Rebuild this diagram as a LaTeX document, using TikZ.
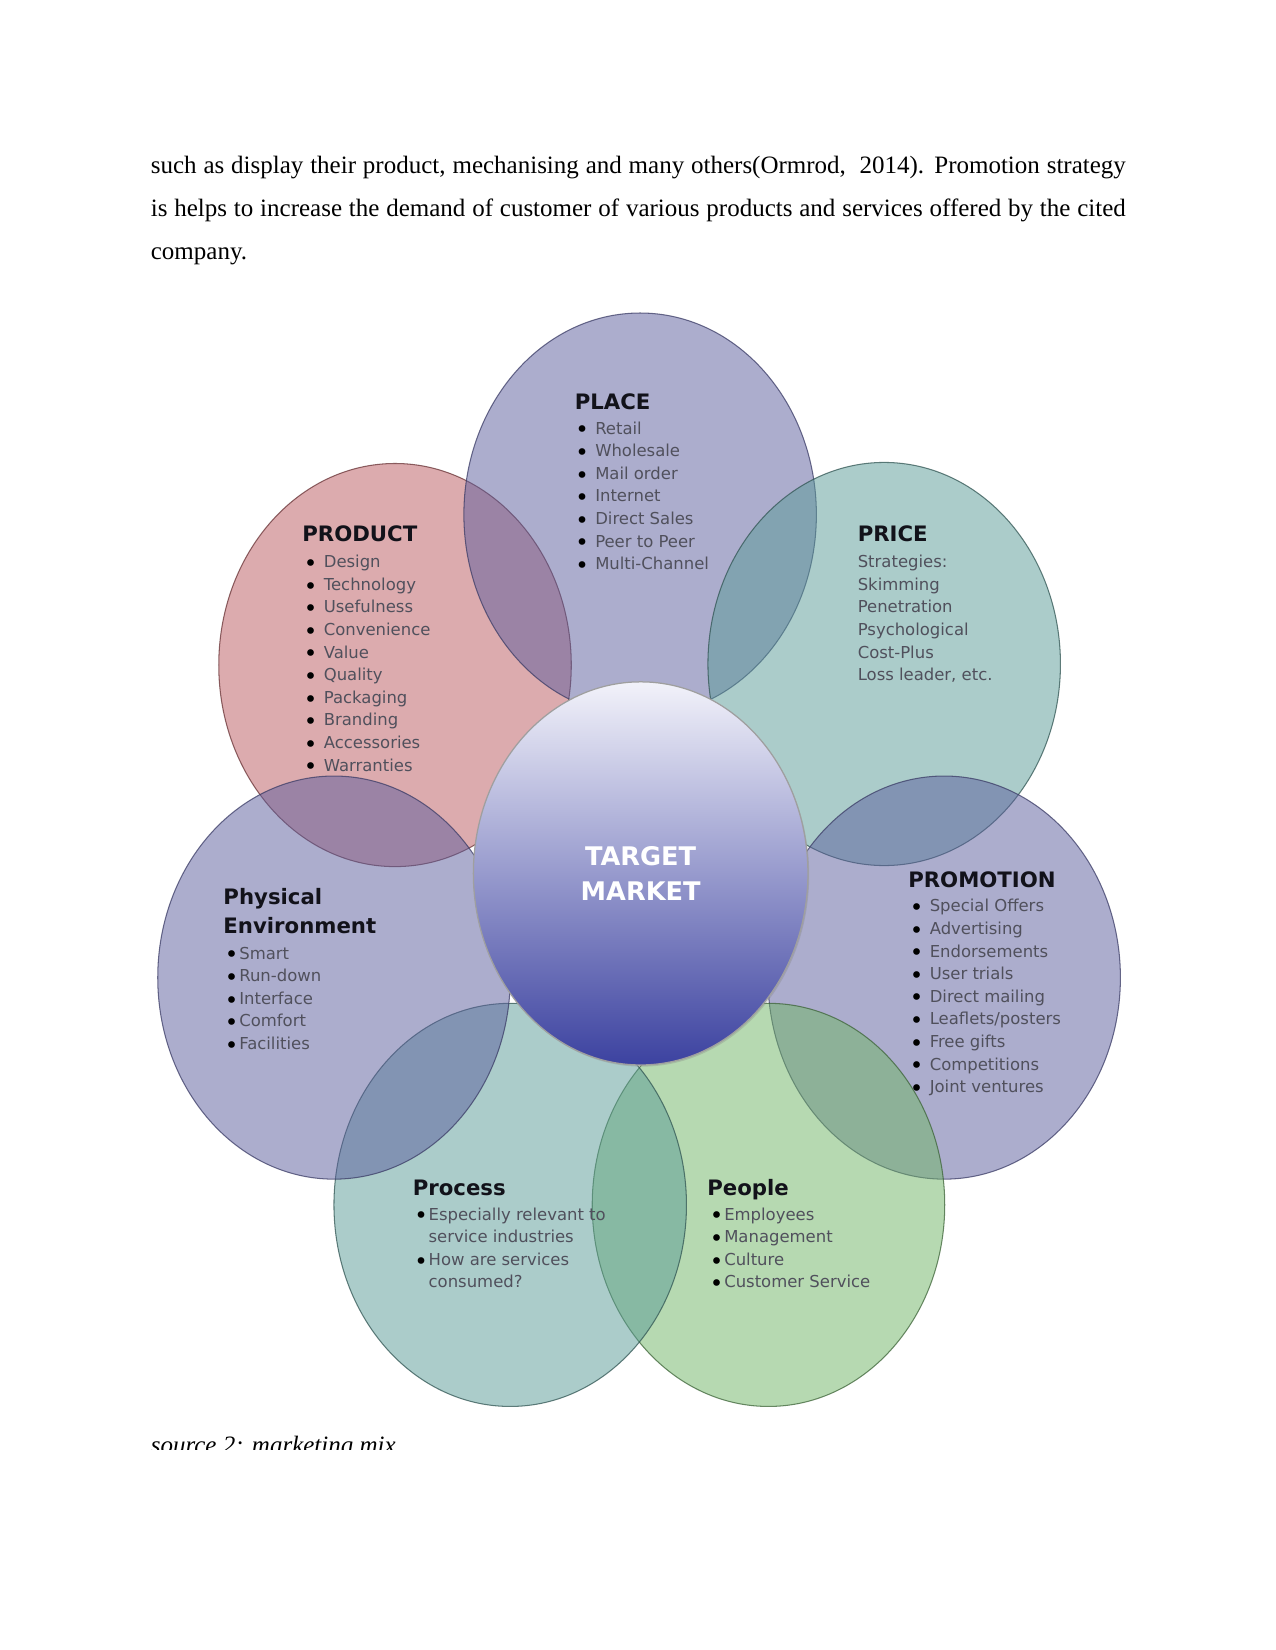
\documentclass[tikz,border=0pt]{standalone}
\usepackage{fontspec}
\setmainfont{Liberation Serif}
\newfontfamily\djsans{DejaVu Sans}
\usetikzlibrary{shapes.geometric,shadows}

\definecolor{lavC}{RGB}{91,93,157}
\definecolor{pinkC}{RGB}{187,89,95}
\definecolor{tealC}{RGB}{89,155,151}
\definecolor{greenC}{RGB}{111,181,101}
\definecolor{itemgray}{RGB}{80,80,92}
\definecolor{titleC}{RGB}{18,18,26}
\definecolor{tTop}{RGB}{242,242,250}
\definecolor{tMid}{RGB}{166,169,213}
\definecolor{tBot}{RGB}{60,66,160}

\newcommand\bul[1][8.3pt]{\makebox[#1][l]{\textcolor{black}{\fontsize{11}{10}\selectfont\raisebox{-1.8pt}{\hspace{-1.3pt}•}}}}
\newcommand\nobul[1][8.3pt]{\makebox[#1][l]{}}

\tikzset{
  petal/.style={ellipse, minimum width=169.2pt, minimum height=193.5pt, inner sep=0pt,
    fill opacity=0.5, draw opacity=0.75, line width=0.5pt},
  lavpetal/.style={petal, fill=lavC, draw=lavC!65!black},
  pinkpetal/.style={petal, fill=pinkC, draw=pinkC!55!black},
  tealpetal/.style={petal, fill=tealC, draw=tealC!55!black},
  greenpetal/.style={petal, fill=greenC, draw=greenC!55!black},
  ptitle/.style={anchor=base west, inner sep=0pt, text=titleC,
    font=\djsans\bfseries\fontsize{10.2}{13.6}\selectfont},
  plist/.style={anchor=base west, inner sep=0pt, text=itemgray,
    font=\djsans\fontsize{7.9}{10.85}\selectfont},
  bodyline/.style={anchor=base west, inner sep=0pt, font=\fontsize{12}{14}\selectfont},
}

\begin{document}
\begin{tikzpicture}[x=0.50495pt, y=-0.50510pt]
\fill[white] (0,0) rectangle (1212,1568);
\useasboundingbox (0,0) rectangle (1212,1568);

% body text
\node[bodyline] (l1) at (143,165) {\makebox[468pt][s]{such as display their product, mechanising and many others(Ormrod,\ \ 2014). Promotion strategy}};
\node[bodyline] (l2) at (143,206) {\makebox[468pt][s]{is helps to increase the demand of customer of various products and services offered by the cited}};
\node[bodyline] (l3) at (143,247) {company.};

% petals (drawing order gives the overlap colours)
\node[pinkpetal]  (product)   at (375.5,632) {};
\node[lavpetal]   (place)     at (608.5,489) {};
\node[tealpetal]  (price)     at (840.5,631) {};
\node[lavpetal]   (promotion) at (897.5,929) {};
\node[greenpetal] (people)    at (730.5,1145) {};
\node[tealpetal]  (process)   at (485,1145) {};
\node[lavpetal]   (physical)  at (317.5,929) {};

% centre
\node[ellipse, minimum width=160.6pt, minimum height=183.9pt, inner sep=0pt,
  top color=tTop, middle color=tMid, bottom color=tBot, draw=gray!75, line width=0.6pt,
  drop shadow={opacity=0.3, shadow xshift=0.6pt, shadow yshift=-0.8pt},
  text=white, align=center, font=\djsans\bfseries\fontsize{12.3}{16.7}\selectfont]
  (target) at (609,830) {TARGET\\MARKET};

% PLACE
\node[ptitle] (placeT) at (546,389) {PLACE};
\node[plist] (placeL) at (549,412.5) {\begin{tabular}[t]{@{}l@{}}
\bul Retail\\ \bul Wholesale\\ \bul Mail order\\ \bul Internet\\ \bul Direct Sales\\ \bul Peer to Peer\\ \bul Multi-Channel
\end{tabular}};

% PRODUCT
\node[ptitle] (productT) at (287,515) {PRODUCT};
\node[plist] (productL) at (291,539.5) {\begin{tabular}[t]{@{}l@{}}
\bul Design\\ \bul Technology\\ \bul Usefulness\\ \bul Convenience\\ \bul Value\\ \bul Quality\\ \bul Packaging\\ \bul Branding\\ \bul Accessories\\ \bul Warranties
\end{tabular}};

% PRICE
\node[ptitle] (priceT) at (815,515) {PRICE};
\node[plist] (priceL) at (815,539.5) {\begin{tabular}[t]{@{}l@{}}
Strategies:\\ Skimming\\ Penetration\\ Psychological\\ Cost-Plus\\ Loss leader, etc.
\end{tabular}};

% PROMOTION
\node[ptitle] (promotionT) at (863,843) {PROMOTION};
\node[plist] (promotionL) at (867,866.5) {\begin{tabular}[t]{@{}l@{}}
\bul Special Offers\\ \bul Advertising\\ \bul Endorsements\\ \bul User trials\\ \bul Direct mailing\\ \bul Leaflets/posters\\ \bul Free gifts\\ \bul Competitions\\ \bul Joint ventures
\end{tabular}};

% PHYSICAL ENVIRONMENT
\node[ptitle] (physicalT) at (212,860) {\begin{tabular}[t]{@{}l@{}}Physical\\ Environment\end{tabular}};
\node[plist] (physicalL) at (216,911.5) {\begin{tabular}[t]{@{}l@{}}
\bul[5.6pt]Smart\\ \bul[5.6pt]Run-down\\ \bul[5.6pt]Interface\\ \bul[5.6pt]Comfort\\ \bul[5.6pt]Facilities
\end{tabular}};

% PROCESS
\node[ptitle] (processT) at (392,1136) {Process};
\node[plist] (processL) at (396,1159.5) {\begin{tabular}[t]{@{}l@{}}
\bul[5.6pt]Especially relevant to\\ \nobul[5.6pt]service industries\\ \bul[5.6pt]How are services\\ \nobul[5.6pt]consumed?
\end{tabular}};

% PEOPLE
\node[ptitle] (peopleT) at (672,1136) {People};
\node[plist] (peopleL) at (677,1159.5) {\begin{tabular}[t]{@{}l@{}}
\bul[5.6pt]Employees\\ \bul[5.6pt]Management\\ \bul[5.6pt]Culture\\ \bul[5.6pt]Customer Service
\end{tabular}};

% caption (lower part hidden as in the page)
\begin{scope}
\clip (100,1300) rectangle (700,1377);
\node[bodyline, font=\itshape\fontsize{12}{14}\selectfont] (caption) at (143,1381) {source 2: marketing mix};
\end{scope}
\end{tikzpicture}
\end{document}
